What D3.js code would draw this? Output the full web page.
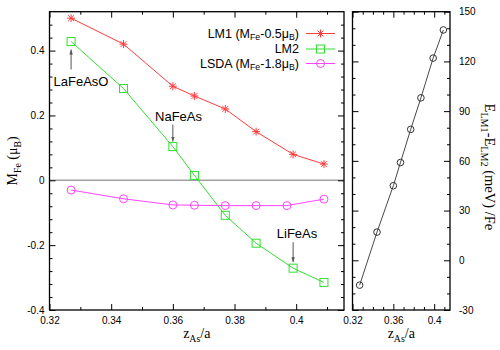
<!DOCTYPE html>
<html>
<head>
<meta charset="utf-8">
<script src="https://cdn.jsdelivr.net/npm/d3@7"></script>
<style>
  html, body { margin: 0; padding: 0; background: #fff; }
  svg { display: block; }
</style>
</head>
<body>
<svg id="chart" width="500" height="350"></svg>
<script>
// ---------------- data ----------------
const zAs   = [0.327, 0.344, 0.360, 0.367, 0.377, 0.387, 0.399, 0.409];
const lm1   = [0.50, 0.42, 0.29, 0.26, 0.22, 0.15, 0.08, 0.05];
const lm2   = [0.428, 0.283, 0.104, 0.015, -0.108, -0.194, -0.271, -0.315];
const zAsLsda = [0.327, 0.344, 0.360, 0.367, 0.377, 0.387, 0.397, 0.409];
const lsda  = [-0.030, -0.057, -0.076, -0.077, -0.078, -0.078, -0.078, -0.058];
const dE    = [-15, 17, 45, 59, 79, 98, 122, 139];

const xTicksL = [0.32, 0.34, 0.36, 0.38, 0.40];
const xTickLabelsL = ["0.32", "0.34", "0.36", "0.38", "0.4"];
const xMinorL = [0.33, 0.35, 0.37, 0.39, 0.41];
const yTicksL = [-0.4, -0.2, 0, 0.2, 0.4];
const yTickLabelsL = ["-0.4", "-0.2", "0", "0.2", "0.4"];
const yMinorL = [-0.36, -0.32, -0.28, -0.24, -0.16, -0.12, -0.08, -0.04, 0.04, 0.08, 0.12, 0.16, 0.24, 0.28, 0.32, 0.36, 0.44, 0.48];
const xTicksR = [0.32, 0.36, 0.40];
const xTickLabelsR = ["0.32", "0.36", "0.4"];
const xMinorR = [0.33, 0.34, 0.35, 0.37, 0.38, 0.39, 0.41];
const yTicksR = [-30, 0, 30, 60, 90, 120, 150];
const yTickLabelsR = ["-30", "0", "30", "60", "90", "120", "150"];
const yMinorR = [-20, -10, 10, 20, 40, 50, 70, 80, 100, 110, 130, 140];

const legendNames = [
  [["LM1 (M", 0], ["Fe", 1], ["-0.5\u03bc", 0], ["B", 1], [")", 0]],
  [["LM2", 0]],
  [["LSDA (M", 0], ["Fe", 1], ["-1.8\u03bc", 0], ["B", 1], [")", 0]]
];
const annotations = [
  { label: "LaFeAsO", idx: 0 },
  { label: "NaFeAs", idx: 2 },
  { label: "LiFeAs", idx: 6 }
];

// ---------------- layout ----------------
const L = { left: 49.5, right: 344, top: 11.7, bottom: 310 };
const R = { left: 352.5, right: 450, top: 11.7, bottom: 310 };

const xL = d3.scaleLinear().domain([0.32, 0.4155]).range([L.left, L.right]);
const yL = d3.scaleLinear().domain([-0.4, 0.52]).range([L.bottom, L.top]);
const xR = d3.scaleLinear().domain([0.32, 0.4155]).range([R.left, R.right]);
const yR = d3.scaleLinear().domain([-30, 150]).range([R.bottom, R.top]);

const SANS = "'Liberation Sans', Arial, Helvetica, sans-serif";
const SERIF = "'Liberation Serif', 'Times New Roman', serif";

const svg = d3.select("#chart");

function addParts(textSel, parts, size, shift) {
  const sh = shift == null ? 0.3 : shift;
  let shifted = false;
  parts.forEach(([t, sub]) => {
    const ts = textSel.append("tspan").text(t);
    if (sub) {
      ts.attr("font-size", size * 0.7);
      if (!shifted) { ts.attr("dy", size * sh); shifted = true; }
    } else {
      ts.attr("font-size", size);
      if (shifted) { ts.attr("dy", -size * sh); shifted = false; }
    }
  });
}

function styleAxis(g) {
  g.select(".domain").remove();
  g.selectAll(".tick line").attr("stroke", "#000").attr("stroke-width", 1);
  g.selectAll(".tick text").attr("font-family", SANS).attr("font-size", 10).attr("fill", "#000");
}

function drawAxes(P, x, y, xt, xtl, xm, yt, ytl, ym, yLabelsRight) {
  svg.append("g").attr("transform", `translate(0,${P.bottom})`)
    .call(d3.axisBottom(x).tickValues(xt).tickFormat((d, i) => xtl[i]).tickSize(-6).tickPadding(7))
    .call(styleAxis);
  svg.append("g").attr("transform", `translate(0,${P.bottom})`)
    .call(d3.axisBottom(x).tickValues(xm).tickFormat("").tickSize(-3)).call(styleAxis);
  svg.append("g").attr("transform", `translate(0,${P.top})`)
    .call(d3.axisTop(x).tickValues(xt).tickFormat("").tickSize(-6)).call(styleAxis);
  svg.append("g").attr("transform", `translate(0,${P.top})`)
    .call(d3.axisTop(x).tickValues(xm).tickFormat("").tickSize(-3)).call(styleAxis);
  svg.append("g").attr("transform", `translate(${P.left},0)`)
    .call(d3.axisLeft(y).tickValues(yt).tickFormat(yLabelsRight ? "" : (d, i) => ytl[i]).tickSize(-6).tickPadding(5))
    .call(styleAxis);
  svg.append("g").attr("transform", `translate(${P.left},0)`)
    .call(d3.axisLeft(y).tickValues(ym).tickFormat("").tickSize(-3)).call(styleAxis);
  svg.append("g").attr("transform", `translate(${P.right},0)`)
    .call(d3.axisRight(y).tickValues(yt).tickFormat(yLabelsRight ? (d, i) => ytl[i] : "").tickSize(-6).tickPadding(9))
    .call(styleAxis);
  svg.append("g").attr("transform", `translate(${P.right},0)`)
    .call(d3.axisRight(y).tickValues(ym).tickFormat("").tickSize(-3)).call(styleAxis);
  svg.append("rect").attr("x", P.left).attr("y", P.top)
    .attr("width", P.right - P.left).attr("height", P.bottom - P.top)
    .attr("fill", "none").attr("stroke", "#000").attr("stroke-width", 1.3);
}

// zero line (left panel)
svg.append("line")
  .attr("x1", L.left).attr("x2", L.right).attr("y1", yL(0)).attr("y2", yL(0))
  .attr("stroke", "#a0a0a0").attr("stroke-width", 1.5);

drawAxes(L, xL, yL, xTicksL, xTickLabelsL, xMinorL, yTicksL, yTickLabelsL, yMinorL, false);
drawAxes(R, xR, yR, xTicksR, xTickLabelsR, xMinorR, yTicksR, yTickLabelsR, yMinorR, true);

function star(g, cx, cy, color) {
  const s = 4, d = 2.9;
  g.append("path")
    .attr("d", `M${cx - s},${cy}H${cx + s}M${cx},${cy - s}V${cy + s}M${cx - d},${cy - d}L${cx + d},${cy + d}M${cx - d},${cy + d}L${cx + d},${cy - d}`)
    .attr("stroke", color).attr("stroke-width", 1).attr("fill", "none");
}
function square(g, cx, cy, color) {
  g.append("rect").attr("x", cx - 4).attr("y", cy - 4).attr("width", 8).attr("height", 8)
    .attr("fill", "none").attr("stroke", color).attr("stroke-width", 1);
}
function circle(g, cx, cy, color, r) {
  g.append("circle").attr("cx", cx).attr("cy", cy).attr("r", r || 4)
    .attr("fill", "none").attr("stroke", color).attr("stroke-width", 1);
}

const series = [
  { xs: zAs, ys: lm1, color: "#ff3b3b", marker: star },
  { xs: zAs, ys: lm2, color: "#33dd33", marker: square },
  { xs: zAsLsda, ys: lsda, color: "#ff44ff", marker: circle }
];

const line = d3.line();
series.forEach(s => {
  const g = svg.append("g");
  const pts = s.xs.map((xv, i) => [xL(xv), yL(s.ys[i])]);
  g.append("path").attr("d", line(pts)).attr("fill", "none")
    .attr("stroke", s.color).attr("stroke-width", 1);
  pts.forEach(p => s.marker(g, p[0], p[1], s.color));
});

{
  const g = svg.append("g");
  const pts = zAs.map((xv, i) => [xR(xv), yR(dE[i])]);
  g.append("path").attr("d", line(pts)).attr("fill", "none")
    .attr("stroke", "#333").attr("stroke-width", 0.9);
  pts.forEach(p => circle(g, p[0], p[1], "#333", 3.3));
}

// legend
const legY = [33.5, 49, 63.5];
legendNames.forEach((parts, i) => {
  const t = svg.append("text").attr("x", 299).attr("y", legY[i] + 4.3)
    .attr("text-anchor", "end").attr("font-family", SANS).attr("fill", "#000");
  addParts(t, parts, 12.5, 0.2);
  const s = series[i];
  const g = svg.append("g");
  g.append("line").attr("x1", 306).attr("x2", 335).attr("y1", legY[i]).attr("y2", legY[i])
    .attr("stroke", s.color).attr("stroke-width", 1);
  s.marker(g, 320.5, legY[i], s.color);
});

// arrows & annotation labels
const defs = svg.append("defs");
defs.append("marker").attr("id", "arr").attr("viewBox", "0 0 10 10")
  .attr("refX", 10).attr("refY", 5).attr("markerWidth", 5).attr("markerHeight", 5)
  .attr("markerUnits", "userSpaceOnUse").attr("orient", "auto")
  .append("path").attr("d", "M0,1.5L10,5L0,8.5Z").attr("fill", "#555");

function annot(a, textX, textBase, y1, y2) {
  const px = xL(zAs[a.idx]);
  svg.append("line").attr("x1", px).attr("x2", px).attr("y1", y1).attr("y2", y2)
    .attr("stroke", "#555").attr("stroke-width", 1).attr("marker-end", "url(#arr)");
  svg.append("text").attr("x", textX).attr("y", textBase).attr("text-anchor", "middle")
    .attr("font-family", SANS).attr("font-size", 13).attr("fill", "#000").text(a.label);
}
{
  const p0 = yL(lm2[annotations[0].idx]);
  annot(annotations[0], 81, 86, p0 + 28, p0 + 8);
  const p1 = yL(lm2[annotations[1].idx]);
  annot(annotations[1], 178.5, 120.5, p1 - 22, p1 - 5);
  const p2 = yL(lm2[annotations[2].idx]);
  annot(annotations[2], 297, 237.5, p2 - 26, p2 - 6);
}

// axis titles
{
  const t = svg.append("text").attr("transform", `translate(17,${(L.top + L.bottom) / 2}) rotate(-90)`)
    .attr("text-anchor", "middle").attr("font-family", SERIF).attr("fill", "#000");
  addParts(t, [["M", 0], ["Fe", 1], [" (\u03bc", 0], ["B", 1], [")", 0]], 14);

  const tx1 = svg.append("text").attr("x", (L.left + L.right) / 2).attr("y", 338)
    .attr("text-anchor", "middle").attr("font-family", SERIF).attr("fill", "#000");
  addParts(tx1, [["z", 0], ["As", 1], ["/a", 0]], 14, 0.25);

  const tx2 = svg.append("text").attr("x", (R.left + R.right) / 2).attr("y", 338)
    .attr("text-anchor", "middle").attr("font-family", SERIF).attr("fill", "#000");
  addParts(tx2, [["z", 0], ["As", 1], ["/a", 0]], 14, 0.25);

  const tr = svg.append("text").attr("transform", `translate(485,${(R.top + R.bottom) / 2 + 6}) rotate(90)`)
    .attr("text-anchor", "middle").attr("font-family", SERIF).attr("fill", "#000");
  addParts(tr, [["E", 0], ["LM1", 1], ["-E", 0], ["LM2", 1], [" (meV) /Fe", 0]], 14.5);
}
</script>
</body>
</html>
